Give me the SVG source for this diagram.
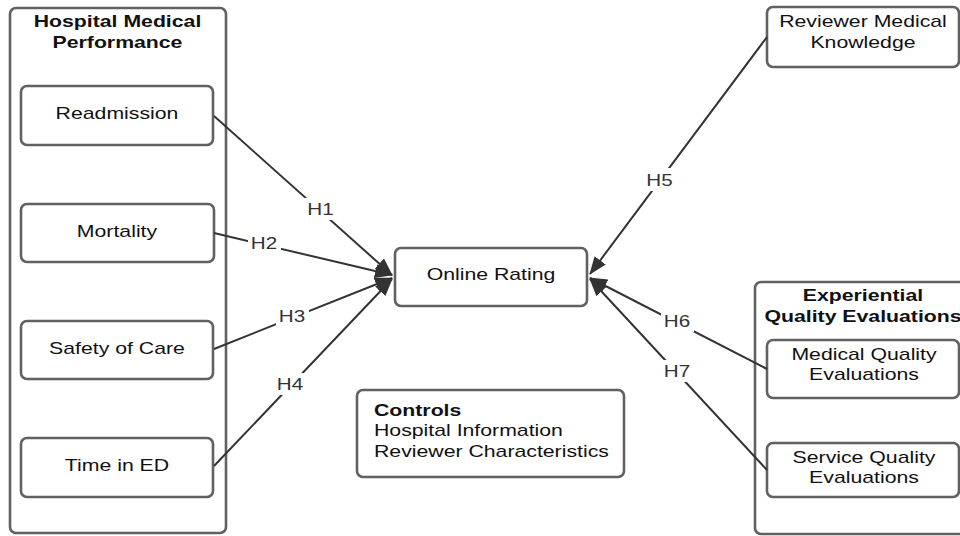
<svg xmlns="http://www.w3.org/2000/svg" width="960" height="536" viewBox="0 0 960 536">
<style>
.box{fill:#fff;stroke:#616161;stroke-width:2.6}
.t{font-family:"Liberation Sans",Arial,sans-serif;font-size:17px;fill:#111;text-anchor:middle}
.b{font-weight:bold}
.tl{font-family:"Liberation Sans",Arial,sans-serif;font-size:17px;fill:#111}
.lab{font-family:"Liberation Sans",Arial,sans-serif;font-size:16.5px;fill:#333;text-anchor:middle}
.ln{stroke:#333;stroke-width:2;fill:none}
.lb{fill:#fff}
</style>
<defs>
<marker id="arr" viewBox="0 0 18 14" refX="17" refY="7" markerWidth="18" markerHeight="14" orient="auto" markerUnits="userSpaceOnUse">
<path d="M0,0 L18,7 L0,14 z" fill="#333"/>
</marker>
</defs>
<rect width="960" height="536" fill="#fff"/>

<g id="hospital-medical-performance">
<rect class="box" x="10" y="8" width="216" height="525" rx="6"/>
<text class="t b" transform="matrix(1.25 0 0 1 117.5 27)">Hospital Medical<tspan x="0" dy="21">Performance</tspan></text>
</g>
<g id="readmission">
<rect class="box" x="21" y="86" width="192" height="59" rx="6"/>
<text class="t" transform="matrix(1.25 0 0 1 117 119)">Readmission</text>
</g>
<g id="mortality">
<rect class="box" x="21" y="204" width="193" height="58" rx="6"/>
<text class="t" transform="matrix(1.25 0 0 1 117 236.5)">Mortality</text>
</g>
<g id="safety-of-care">
<rect class="box" x="21" y="321" width="192" height="58" rx="6"/>
<text class="t" transform="matrix(1.25 0 0 1 117 353.5)">Safety of Care</text>
</g>
<g id="time-in-ed">
<rect class="box" x="21" y="438" width="192" height="59" rx="6"/>
<text class="t" transform="matrix(1.25 0 0 1 117 470.5)">Time in ED</text>
</g>
<g id="online-rating">
<rect class="box" x="395" y="248" width="192" height="58" rx="6"/>
<text class="t" transform="matrix(1.25 0 0 1 491 280)">Online Rating</text>
</g>
<g id="reviewer-medical-knowledge">
<rect class="box" x="767" y="7" width="192" height="60" rx="6"/>
<text class="t" transform="matrix(1.25 0 0 1 863 27)">Reviewer Medical<tspan x="0" dy="21">Knowledge</tspan></text>
</g>
<g id="experiential-quality-evaluations">
<rect class="box" x="755" y="282" width="216" height="252" rx="6"/>
<text class="t b" transform="matrix(1.25 0 0 1 863 301)">Experiential<tspan x="0" dy="21">Quality Evaluations</tspan></text>
</g>
<g id="medical-quality-evaluations">
<rect class="box" x="767" y="340" width="192" height="58" rx="6"/>
<text class="t" transform="matrix(1.25 0 0 1 864 360)">Medical Quality<tspan x="0" dy="20.5">Evaluations</tspan></text>
</g>
<g id="service-quality-evaluations">
<rect class="box" x="767" y="443" width="192" height="54" rx="6"/>
<text class="t" transform="matrix(1.25 0 0 1 864 462.5)">Service Quality<tspan x="0" dy="20.5">Evaluations</tspan></text>
</g>
<g id="controls">
<rect class="box" x="357" y="390" width="267" height="87" rx="6"/>
<text class="tl b" transform="matrix(1.25 0 0 1 374 415.5)">Controls</text>
<text class="tl" transform="matrix(1.25 0 0 1 374 436)">Hospital Information</text>
<text class="tl" transform="matrix(1.25 0 0 1 374 456.5)">Reviewer Characteristics</text>
</g>

<g id="connectors">
<line class="ln" x1="214" y1="116" x2="392" y2="275" marker-end="url(#arr)"/>
<line class="ln" x1="214" y1="233" x2="392" y2="275" marker-end="url(#arr)"/>
<line class="ln" x1="214" y1="349" x2="392" y2="278" marker-end="url(#arr)"/>
<line class="ln" x1="214" y1="466" x2="392" y2="279" marker-end="url(#arr)"/>
<line class="ln" x1="767" y1="37" x2="590" y2="274" marker-end="url(#arr)"/>
<line class="ln" x1="767" y1="369" x2="590" y2="278" marker-end="url(#arr)"/>
<line class="ln" x1="767" y1="470" x2="590" y2="279" marker-end="url(#arr)"/>
<rect class="lb" x="304" y="198" width="33" height="22"/>
<text class="lab" transform="matrix(1.25 0 0 1 320.5 215)">H1</text>
<rect class="lb" x="248" y="232" width="33" height="22"/>
<text class="lab" transform="matrix(1.25 0 0 1 264 249)">H2</text>
<rect class="lb" x="276" y="305" width="33" height="22"/>
<text class="lab" transform="matrix(1.25 0 0 1 292 322)">H3</text>
<rect class="lb" x="274" y="373" width="33" height="22"/>
<text class="lab" transform="matrix(1.25 0 0 1 290 390)">H4</text>
<rect class="lb" x="643" y="168" width="33" height="23"/>
<text class="lab" transform="matrix(1.25 0 0 1 659.5 186)">H5</text>
<rect class="lb" x="661" y="310" width="33" height="22"/>
<text class="lab" transform="matrix(1.25 0 0 1 677 327)">H6</text>
<rect class="lb" x="661" y="360" width="33" height="22"/>
<text class="lab" transform="matrix(1.25 0 0 1 677 377)">H7</text>
</g>
</svg>
